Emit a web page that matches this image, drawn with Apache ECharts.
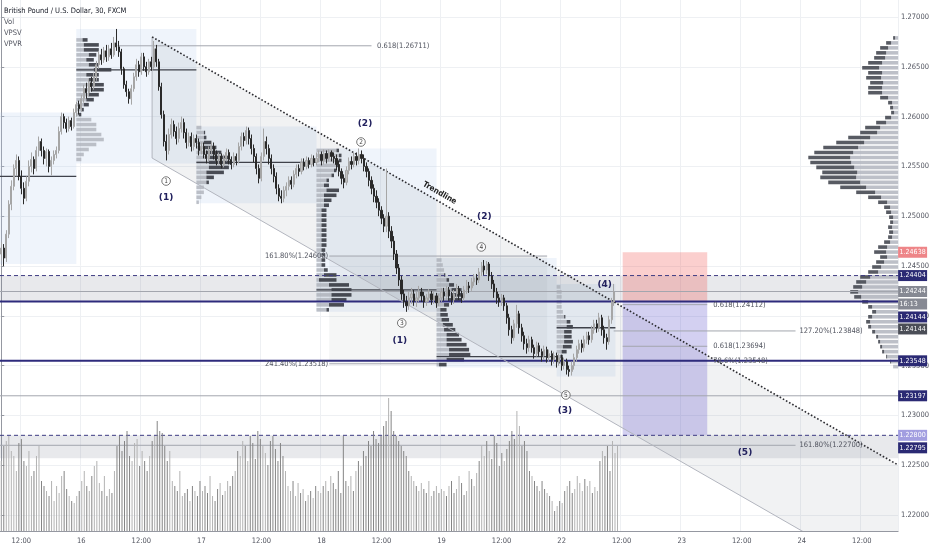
<!DOCTYPE html>
<html><head><meta charset="utf-8">
<script src="https://cdn.jsdelivr.net/npm/echarts@6.0.0/dist/echarts.min.js"></script>
<style>html,body{margin:0;padding:0;background:#fff}#c{width:932px;height:550px}</style>
</head><body><div id="c"></div><script>
// ---------------- DATA ----------------
const BAR_COUNT = 359;
const tickLabels = ['12:00','16','12:00','17','12:00','18','12:00','19','12:00','22','12:00','23','12:00','24','12:00'];
const tickStart = 8, tickStep = 24;
const priceTicks = [1.22,1.225,1.23,1.235,1.24,1.245,1.25,1.255,1.26,1.265,1.27];
const priceMin = 1.218394, priceMax = 1.271707;

// [open, close, low, high]
const candles = [
[1.2462,1.2468,1.2455,1.2474],[1.2468,1.2458,1.2450,1.2472],[1.2458,1.2482,1.2454,1.2486],[1.2482,1.2512,1.2478,1.2516],
[1.2512,1.2530,1.2506,1.2536],[1.2530,1.2548,1.2526,1.2552],[1.2548,1.2556,1.2540,1.2562],[1.2556,1.2540,1.2536,1.2560],
[1.2540,1.2528,1.2522,1.2546],[1.2528,1.2518,1.2512,1.2534],[1.2518,1.2535,1.2515,1.2540],[1.2535,1.2550,1.2530,1.2556],
[1.2550,1.2557,1.2544,1.2564],[1.2557,1.2548,1.2542,1.2560],[1.2548,1.2566,1.2545,1.2570],[1.2566,1.2575,1.2560,1.2580],
[1.2575,1.2566,1.2560,1.2578],[1.2566,1.2558,1.2552,1.2570],[1.2558,1.2565,1.2550,1.2568],[1.2565,1.2550,1.2544,1.2567],
[1.2550,1.2556,1.2541,1.2560],[1.2556,1.2562,1.2552,1.2566],[1.2562,1.2566,1.2558,1.2570],[1.2566,1.2585,1.2563,1.2590],
[1.2585,1.2600,1.2582,1.2604],[1.2600,1.2594,1.2588,1.2603],[1.2594,1.2588,1.2584,1.2598],[1.2588,1.2596,1.2585,1.2600],
[1.2596,1.2590,1.2586,1.2599],[1.2590,1.2604,1.2588,1.2608],[1.2604,1.2612,1.2600,1.2615],[1.2612,1.2608,1.2602,1.2616],
[1.2608,1.2618,1.2605,1.2622],[1.2618,1.2628,1.2614,1.2632],[1.2628,1.2624,1.2618,1.2634],[1.2624,1.2634,1.2620,1.2638],
[1.2634,1.2630,1.2625,1.2640],[1.2630,1.2640,1.2627,1.2644],[1.2640,1.2652,1.2636,1.2656],[1.2652,1.2662,1.2648,1.2666],
[1.2662,1.2657,1.2652,1.2668],[1.2657,1.2666,1.2654,1.2670],[1.2666,1.2660,1.2655,1.2672],[1.2660,1.2668,1.2656,1.2672],
[1.2668,1.2662,1.2658,1.2674],[1.2662,1.2674,1.2660,1.2680],[1.2674,1.2670,1.2666,1.2688],[1.2670,1.2665,1.2660,1.2676],
[1.2665,1.2648,1.2642,1.2668],[1.2648,1.2632,1.2628,1.2650],[1.2632,1.2625,1.2620,1.2636],[1.2625,1.2618,1.2613,1.2628],
[1.2618,1.2628,1.2612,1.2632],[1.2628,1.2640,1.2625,1.2644],[1.2640,1.2652,1.2636,1.2658],[1.2652,1.2645,1.2640,1.2656],
[1.2645,1.2660,1.2642,1.2664],[1.2660,1.2650,1.2646,1.2664],[1.2650,1.2645,1.2640,1.2655],[1.2645,1.2655,1.2642,1.2658],
[1.2655,1.2650,1.2646,1.2660],[1.2650,1.2668,1.2648,1.2676],[1.2668,1.2655,1.2650,1.2672],[1.2655,1.2630,1.2626,1.2658],
[1.2630,1.2602,1.2598,1.2634],[1.2602,1.2575,1.2570,1.2606],[1.2575,1.2566,1.2556,1.2582],[1.2566,1.2582,1.2562,1.2588],
[1.2582,1.2592,1.2578,1.2598],[1.2592,1.2585,1.2580,1.2596],[1.2585,1.2578,1.2572,1.2590],[1.2578,1.2588,1.2574,1.2594],
[1.2588,1.2594,1.2584,1.2600],[1.2594,1.2584,1.2578,1.2598],[1.2584,1.2574,1.2568,1.2588],[1.2574,1.2580,1.2570,1.2584],
[1.2580,1.2570,1.2565,1.2584],[1.2570,1.2578,1.2566,1.2582],[1.2578,1.2574,1.2568,1.2582],[1.2574,1.2566,1.2561,1.2578],
[1.2566,1.2570,1.2562,1.2574],[1.2570,1.2562,1.2558,1.2574],[1.2562,1.2558,1.2553,1.2566],[1.2558,1.2566,1.2555,1.2570],
[1.2566,1.2570,1.2562,1.2575],[1.2570,1.2562,1.2557,1.2574],[1.2562,1.2556,1.2551,1.2566],[1.2556,1.2560,1.2552,1.2564],
[1.2560,1.2552,1.2548,1.2563],[1.2552,1.2558,1.2549,1.2562],[1.2558,1.2564,1.2555,1.2568],[1.2564,1.2557,1.2552,1.2567],
[1.2557,1.2552,1.2547,1.2560],[1.2552,1.2560,1.2549,1.2564],[1.2560,1.2556,1.2551,1.2563],[1.2556,1.2570,1.2553,1.2574],
[1.2570,1.2580,1.2566,1.2584],[1.2580,1.2576,1.2570,1.2584],[1.2576,1.2586,1.2572,1.2590],[1.2586,1.2578,1.2572,1.2589],
[1.2578,1.2568,1.2562,1.2582],[1.2568,1.2560,1.2554,1.2572],[1.2560,1.2548,1.2542,1.2563],[1.2548,1.2538,1.2533,1.2552],
[1.2538,1.2560,1.2535,1.2564],[1.2560,1.2575,1.2556,1.2588],[1.2575,1.2568,1.2562,1.2580],[1.2568,1.2558,1.2552,1.2572],
[1.2558,1.2548,1.2542,1.2562],[1.2548,1.2540,1.2534,1.2552],[1.2540,1.2528,1.2522,1.2544],[1.2528,1.2520,1.2515,1.2532],
[1.2520,1.2518,1.2513,1.2526],[1.2518,1.2526,1.2514,1.2530],[1.2526,1.2530,1.2520,1.2534],[1.2530,1.2536,1.2526,1.2540],
[1.2536,1.2532,1.2527,1.2540],[1.2532,1.2542,1.2529,1.2546],[1.2542,1.2548,1.2538,1.2552],[1.2548,1.2545,1.2540,1.2552],
[1.2545,1.2554,1.2542,1.2558],[1.2554,1.2550,1.2546,1.2558],[1.2550,1.2556,1.2547,1.2560],[1.2556,1.2552,1.2548,1.2559],
[1.2552,1.2558,1.2549,1.2562],[1.2558,1.2554,1.2550,1.2561],[1.2554,1.2558,1.2551,1.2564],[1.2558,1.2562,1.2554,1.2566],
[1.2562,1.2556,1.2551,1.2565],[1.2556,1.2563,1.2552,1.2567],[1.2563,1.2558,1.2553,1.2566],[1.2558,1.2564,1.2555,1.2567],
[1.2564,1.2560,1.2555,1.2566],[1.2560,1.2558,1.2553,1.2564],[1.2558,1.2552,1.2546,1.2562],[1.2552,1.2545,1.2540,1.2556],
[1.2545,1.2538,1.2532,1.2548],[1.2538,1.2534,1.2528,1.2542],[1.2534,1.2546,1.2531,1.2550],[1.2546,1.2555,1.2542,1.2559],
[1.2555,1.2552,1.2547,1.2560],[1.2552,1.2560,1.2549,1.2564],[1.2560,1.2556,1.2551,1.2564],[1.2556,1.2562,1.2552,1.2568],
[1.2562,1.2558,1.2553,1.2566],[1.2558,1.2550,1.2545,1.2562],[1.2550,1.2545,1.2539,1.2554],[1.2545,1.2536,1.2530,1.2548],
[1.2536,1.2528,1.2522,1.2540],[1.2528,1.2520,1.2514,1.2532],[1.2520,1.2514,1.2508,1.2526],[1.2514,1.2506,1.2500,1.2518],
[1.2506,1.2498,1.2492,1.2510],[1.2498,1.2490,1.2484,1.2502],[1.2490,1.2500,1.2484,1.2548],[1.2500,1.2485,1.2478,1.2504],
[1.2485,1.2475,1.2468,1.2490],[1.2475,1.2462,1.2456,1.2480],[1.2462,1.2448,1.2442,1.2466],[1.2448,1.2436,1.2430,1.2452],
[1.2436,1.2422,1.2416,1.2440],[1.2422,1.2414,1.2408,1.2426],[1.2414,1.2410,1.2404,1.2420],[1.2410,1.2418,1.2406,1.2424],
[1.2418,1.2422,1.2412,1.2428],[1.2422,1.2415,1.2410,1.2426],[1.2415,1.2418,1.2409,1.2424],[1.2418,1.2424,1.2414,1.2430],
[1.2424,1.2420,1.2414,1.2428],[1.2420,1.2414,1.2408,1.2424],[1.2414,1.2418,1.2410,1.2422],[1.2418,1.2422,1.2414,1.2427],
[1.2422,1.2416,1.2411,1.2425],[1.2416,1.2420,1.2412,1.2424],[1.2420,1.2413,1.2408,1.2423],[1.2413,1.2418,1.2410,1.2422],
[1.2418,1.2424,1.2414,1.2428],[1.2424,1.2420,1.2415,1.2428],[1.2420,1.2426,1.2416,1.2430],[1.2426,1.2420,1.2415,1.2429],
[1.2420,1.2416,1.2411,1.2424],[1.2416,1.2422,1.2412,1.2426],[1.2422,1.2427,1.2418,1.2432],[1.2427,1.2421,1.2416,1.2430],
[1.2421,1.2418,1.2413,1.2425],[1.2418,1.2426,1.2415,1.2430],[1.2426,1.2430,1.2422,1.2436],[1.2430,1.2428,1.2423,1.2434],
[1.2428,1.2434,1.2425,1.2438],[1.2434,1.2438,1.2430,1.2442],[1.2438,1.2436,1.2431,1.2442],[1.2436,1.2444,1.2433,1.2448],
[1.2444,1.2450,1.2440,1.2454],[1.2450,1.2446,1.2441,1.2456],[1.2446,1.2452,1.2442,1.2455],[1.2452,1.2440,1.2435,1.2454],
[1.2440,1.2432,1.2427,1.2444],[1.2432,1.2424,1.2418,1.2436],[1.2424,1.2418,1.2412,1.2428],[1.2418,1.2414,1.2409,1.2422],
[1.2414,1.2418,1.2410,1.2422],[1.2418,1.2410,1.2405,1.2421],[1.2410,1.2398,1.2392,1.2413],[1.2398,1.2386,1.2380,1.2402],
[1.2386,1.2378,1.2372,1.2390],[1.2378,1.2392,1.2375,1.2396],[1.2392,1.2402,1.2388,1.2411],[1.2402,1.2388,1.2382,1.2405],
[1.2388,1.2380,1.2374,1.2392],[1.2380,1.2372,1.2366,1.2384],[1.2372,1.2368,1.2362,1.2377],[1.2368,1.2376,1.2364,1.2380],
[1.2376,1.2368,1.2363,1.2379],[1.2368,1.2362,1.2357,1.2371],[1.2362,1.2370,1.2359,1.2374],[1.2370,1.2364,1.2359,1.2373],
[1.2364,1.2360,1.2354,1.2367],[1.2360,1.2366,1.2356,1.2370],[1.2366,1.2358,1.2353,1.2369],[1.2358,1.2362,1.2354,1.2366],
[1.2362,1.2356,1.2350,1.2365],[1.2356,1.2360,1.2352,1.2364],[1.2360,1.2354,1.2348,1.2363],[1.2354,1.2358,1.2350,1.2362],
[1.2358,1.2350,1.2345,1.2361],[1.2350,1.2354,1.2346,1.2358],[1.2354,1.2346,1.2341,1.2357],[1.2346,1.2344,1.2339,1.2350],
[1.2344,1.2350,1.2340,1.2354],[1.2350,1.2358,1.2346,1.2362],[1.2358,1.2366,1.2354,1.2370],[1.2366,1.2372,1.2362,1.2376],
[1.2372,1.2368,1.2363,1.2376],[1.2368,1.2376,1.2364,1.2380],[1.2376,1.2380,1.2372,1.2384],[1.2380,1.2376,1.2371,1.2384],
[1.2376,1.2386,1.2373,1.2390],[1.2386,1.2392,1.2382,1.2396],[1.2392,1.2388,1.2383,1.2396],[1.2388,1.2398,1.2384,1.2403],
[1.2398,1.2386,1.2380,1.2401],[1.2386,1.2378,1.2372,1.2390],[1.2378,1.2374,1.2366,1.2382],[1.2374,1.2396,1.2371,1.2400],
[1.2396,1.2414,1.2392,1.2418],[1.2414,1.2424,1.2410,1.2432]
];

const volumes = [
70,85,90,95,80,75,60,88,92,70,65,80,55,60,75,85,50,45,
40,35,50,30,45,38,55,60,42,35,30,28,35,40,
50,60,45,40,55,65,70,48,40,55,35,42,38,60,
85,95,80,90,100,75,70,88,92,65,80,70,60,75,90,95,110,100,98,85,70,80,
50,45,40,60,35,38,42,30,45,40,35,50,
40,45,38,55,35,30,42,48,36,40,50,45,55,60,
80,75,90,85,70,95,88,72,100,92,85,78,66,90,95,82,70,88,75,60,
45,40,50,35,48,38,42,30,36,40,33,45,40,38,
45,50,40,55,48,42,60,38,95,50,45,55,40,60,
70,65,80,75,90,85,100,92,88,95,105,110,133,120,100,95,90,85,80,75,
60,55,50,45,40,48,42,38,50,35,40,45,38,42,
40,35,45,50,38,42,55,48,36,40,60,52,45,58,
70,85,75,90,80,72,95,88,65,78,70,82,90,100,92,120,105,85,90,80,
60,55,50,45,40,50,42,38,35,30,
20,25,30,28,
40,45,50,38,42,55,48,40,52,45,50,38,44,40,
70,80,75,85,60,90,78,85
];

// session volume profiles: [price, upVolume, downVolume]
const sessionAnchors = [30, 78, 126, 174, 222];
const vpS16 = [[1.2677,2.5,2],[1.2672,3,6],[1.2667,3,6],[1.2662,5,3],[1.2657,4,3],[1.2652,5,4],[1.2647,7,7],[1.2642,4,5],[1.2637,5,4],[1.2632,6,5],[1.2627,6,5],[1.2622,5,4],[1.2617,4,3],[1.2612,3,2],[1.2607,2,1],[1.2602,1,1],[1.2597,6,0],[1.2592,8,0],[1.2587,8,0],[1.2582,10,0],[1.2577,11,0],[1.2572,8,0],[1.2567,5,0],[1.2562,3,0],[1.2557,2,0]];
const vpS17 = [[1.2589,2,0],[1.2584,3,0.5],[1.2579,3,1],[1.2574,3,3],[1.2569,3,5],[1.2564,4,6],[1.2559,5,8],[1.2554,5,9],[1.2549,5,8],[1.2544,4,7],[1.2539,4,3],[1.2534,4,1],[1.2529,3,0],[1.2524,3,0],[1.2519,2,0],[1.2514,1,0]];
const vpS18 = [[1.2566,8,1],[1.2561,9,1],[1.2556,9,1],[1.2551,8,1],[1.2546,7,1],[1.2541,6,1],[1.2536,4,1],[1.2531,3,2],[1.2526,4,5],[1.2521,3,5],[1.2516,3,3],[1.2511,3,2],[1.2506,2,2],[1.2501,2,2],[1.2496,2,2],[1.2491,2,2],[1.2486,2,2],[1.2481,2,2],[1.2476,2,2],[1.2471,2,2],[1.2466,2,1.5],[1.2461,2,1.5],[1.2456,2,1.5],[1.2451,2,1.5],[1.2446,3,1.5],[1.2441,3,5],[1.2436,1,7],[1.2431,5,8],[1.2426,6,8],[1.2421,6,8],[1.2416,6,6],[1.2411,5,6],[1.2406,4,1]];
const vpS19 = [[1.2456,2,0],[1.2451,2.5,0],[1.2446,3,0],[1.2441,3,0.5],[1.2436,4,1],[1.2431,5,2],[1.2426,6,4],[1.2421,6,5],[1.2416,5,5],[1.2411,3,2],[1.2406,1.5,2.5],[1.2401,1.5,3],[1.2396,2,3],[1.2391,2.5,4],[1.2386,3,4.5],[1.2381,4,5],[1.2376,4,6],[1.2371,4,8],[1.2366,5,8],[1.2361,5,8.5],[1.2356,4,7],[1.2351,1,3]];
const vpS22 = [[1.2429,1.5,0],[1.2424,2,0],[1.2419,2,0],[1.2414,2,0],[1.2409,2,0],[1.2404,2.5,0],[1.2399,3,0.5],[1.2394,4,1.5],[1.2389,4,2.5],[1.2384,3,3],[1.2379,3,3],[1.2374,3,3.5],[1.2369,2.5,3.5],[1.2364,2,2],[1.2359,1.5,1],[1.2354,1,0.5]];
const VP_ROW = 0.0005;

// visible range volume profile: [price, upVolume, downVolume]
const vpvr = [
[1.2679,3,2],[1.2674,7,5],[1.2669,10,8],[1.2664,12,10],[1.2659,13,11],[1.2654,16,14],[1.2649,19,17],[1.2644,16,14],
[1.2639,17,15],[1.2634,15,13],[1.2629,16,14],[1.2624,16,14],[1.2619,10,8],[1.2614,6,4],[1.2609,5,3],[1.2604,4,3],
[1.2599,7,6],[1.2594,12,10],[1.2589,18,15],[1.2584,21,17],[1.2579,28,22],[1.2574,34,28],[1.2569,40,35],[1.2564,45,39],
[1.2559,48,42],[1.2554,47,41],[1.2549,44,38],[1.2544,41,35],[1.2539,42,36],[1.2534,38,32],[1.2529,32,26],[1.2524,23,19],
[1.2519,17,13],[1.2514,11,9],[1.2509,8,6],[1.2504,7,5],[1.2499,5,4],[1.2494,5,3],[1.2489,6,4],[1.2484,5,4],
[1.2479,6,4],[1.2474,8,6],[1.2469,11,9],[1.2464,12,12],[1.2459,11,7],[1.2454,14,8],[1.2449,17,9],[1.2444,20,10],
[1.2439,28,10],[1.2434,32,10],[1.2429,36,9],[1.2424,40,8],[1.2419,37,7],[1.2414,30,6],[1.2409,26,4],[1.2404,22,4],
[1.2399,26,4],[1.2394,28,4],[1.2389,27,3],[1.2384,23,3],[1.2379,20,2],[1.2374,18,2],[1.2369,16,2],[1.2364,14,2],
[1.2359,11,1],[1.2354,7,1],[1.2349,5,0]
];

// session ranges [fromBar, toBar, high, low] and point of control [fromBar, toBar, price]
const sessionBoxes = [[-0.5,30,1.2604,1.2452],[30,78,1.2688,1.2553],[78,126,1.2590,1.2513],[126,174,1.2568,1.2404],[174,222,1.2458,1.2348],[222,245.5,1.2432,1.2339]];
const pocLines = [[-0.5,30,1.2540],[30,78,1.2647],[78,126,1.2554],[126,174,1.2426],[174,222,1.2359],[222,245.5,1.2388]];

// trend channel [bar, price]
const trendStart = [60.3, 1.2680], trendEnd = [358.5, 1.22502];
const lowerStart = [60.3, 1.25584], lowerEnd = [358.5, 1.21286];

// horizontal levels
const bands = [[1.24404, 1.24144], [1.22800, 1.22570]];
const levelLines = [[1.24144,'navy'],[1.23548,'navy'],[1.24404,'dash'],[1.22800,'dash'],[1.24244,'thin'],[1.23197,'thin']];
const fibZones = [[131.1, 218.2, 1.24600, 1.23518]];
const fibLines = [[46.5,148,1.26711],[131.1,218.2,1.24600],[131.1,175,1.23518],[248.4,282.2,1.24112],[248.4,282.2,1.23694],[248.4,282.2,1.23548],[244.8,317.5,1.23848],[-0.5,317.5,1.22700]];
// position tool [fromBar, toBar, top, bottom, kind]
const positionBoxes = [[248.4,282.2,1.24638,1.24144,'stop'],[248.4,282.2,1.24144,1.22800,'target']];

const labels = [
[65.9,1.25353,'1','circ'],[65.9,1.25183,'(1)','wave'],
[143.8,1.25745,'2','circ'],[145.4,1.25926,'(2)','wave'],
[193.1,1.24992,'(2)','wave'],[191.9,1.24691,'4','circ'],
[160.1,1.23928,'3','circ'],[159.3,1.23747,'(1)','wave'],
[225.7,1.23205,'5','circ'],[225.3,1.23044,'(3)','wave'],
[241.2,1.24309,'(4)','wave'],[297.3,1.22622,'(5)','wave'],
[175.2,1.25233,'Trendline','trend'],
[149.8,1.26711,'0.618(1.26711)','fibL'],
[131.1,1.24600,'161.80%(1.24600)','fibR'],
[131.1,1.23518,'241.40%(1.23518)','fibR'],
[284.2,1.24112,'0.618(1.24112)','fibL'],
[284.2,1.23694,'0.618(1.23694)','fibL'],
[284.2,1.23548,'78.6%(1.23548)','fibL'],
[318.7,1.23848,'127.20%(1.23848)','fibL'],
[318.7,1.22700,'161.80%(1.22700)','fibL']
];

const tags = [
[1.24638,'1.24638','stop'],[1.24404,'1.24404','navy'],[1.24244,'1.24244','last'],[1.24244,'16:13','last'],
[1.24144,'1.24144','navy'],[1.24144,'1.24144','dark'],[1.23548,'1.23548','navy'],[1.23197,'1.23197','navy'],
[1.22800,'1.22800','target'],[1.22795,'1.22795','navy']
];

// ---------------- LAYOUT / STYLE ----------------
const tagShift = [0,0,0,12.5,15.5,27.5,0,0,0,12];
const FONT = "'Liberation Sans Narrow','DejaVu Sans Condensed','Liberation Sans',sans-serif";
const tagColors = {stop:'#ee8588', navy:'#2b2a74', last:'#868993', dark:'#4b4e57', target:'#a29ee0'};
const boxColors = {stop:'rgba(239,83,80,0.28)', target:'rgba(98,86,205,0.28)'};
const NAVY = '#2e2b7c';

const tickAt = {};
tickLabels.forEach((t,k)=>{ tickAt[tickStart + k*tickStep] = t; });
const categories = [];
for (let i = 0; i < BAR_COUNT; i++) categories.push(String(i));
const isTick = (i) => tickAt[i] !== undefined;

const vpRows = [];
[vpS16, vpS17, vpS18, vpS19, vpS22].forEach((rows, s) => {
  rows.forEach(r => vpRows.push([sessionAnchors[s], r[0], r[1], r[2]]));
});

const chart = echarts.init(document.getElementById('c'), null, {renderer:'canvas'});

function seg(api, v1, p1, v2, p2, style) {
  const a = api.coord([v1, p1]), b = api.coord([v2, p2]);
  return {type:'line', shape:{x1:a[0], y1:a[1], x2:b[0], y2:b[1]}, style};
}
function box(api, v1, p1, v2, p2, style) {
  const a = api.coord([v1, p1]), b = api.coord([v2, p2]);
  return {type:'rect', shape:{x:Math.min(a[0],b[0]), y:Math.min(a[1],b[1]), width:Math.abs(b[0]-a[0]), height:Math.abs(b[1]-a[1])}, style};
}
const XR = BAR_COUNT - 0.5;
function custom(name, arr, render, extra) {
  return Object.assign({
    type:'custom', name, xAxisIndex:1, yAxisIndex:0, clip:true, silent:true,
    data: arr.map((d) => [0, 1.25]),
    renderItem: (params, api) => render(arr[params.dataIndex], api, params.dataIndex)
  }, extra || {});
}

const option = {
  animation:false,
  backgroundColor:'#ffffff',
  grid:[{left:0, right:29, top:0, bottom:19}, {left:0, right:29, top:398, bottom:19}],
  xAxis:[
    {type:'category', gridIndex:0, data:categories, boundaryGap:true,
     axisLine:{lineStyle:{color:'#9598a1'}},
     axisTick:{interval:(i)=>isTick(i), alignWithLabel:true, length:3, lineStyle:{color:'#9598a1'}},
     axisLabel:{interval:(i)=>isTick(i), formatter:(v,i)=>tickAt[i]||'', fontSize:7.5, color:'#50535e', fontFamily:FONT, margin:6},
     splitLine:{show:true, interval:(i)=>isTick(i), lineStyle:{color:'#eef0f3'}}},
    {type:'value', gridIndex:0, min:-0.5, max:XR, show:false},
    {type:'value', gridIndex:0, min:0, max:900, inverse:true, show:false},
    {type:'category', gridIndex:1, data:categories, show:false}
  ],
  yAxis:[
    {type:'value', gridIndex:0, position:'right', min:priceMin, max:priceMax,
     axisLine:{show:true, lineStyle:{color:'#9598a1'}},
     axisTick:{show:true, length:3, customValues:priceTicks, lineStyle:{color:'#9598a1'}},
     axisLabel:{customValues:priceTicks, formatter:(v)=>v.toFixed(5), fontSize:7.5, color:'#50535e', fontFamily:FONT, margin:3},
     splitLine:{show:true, lineStyle:{color:'#eef0f3'}}},
    {type:'value', gridIndex:1, min:0, max:133, show:false}
  ],
  graphic:[
    {type:'text', left:4, top:7, z:20, style:{text:'British Pound / U.S. Dollar, 30, FXCM', fill:'#131722', fontSize:7.5, fontFamily:FONT}},
    {type:'text', left:4, top:18, z:20, style:{text:'Vol', fill:'#50535e', fontSize:7.5, fontFamily:FONT}},
    {type:'text', left:4, top:29, z:20, style:{text:'VPSV', fill:'#50535e', fontSize:7.5, fontFamily:FONT}},
    {type:'text', left:4, top:40, z:20, style:{text:'VPVR', fill:'#50535e', fontSize:7.5, fontFamily:FONT}}
  ],
  series:[
    custom('sessions', sessionBoxes, (d, api) => box(api, d[0], d[2], d[1], d[3], {fill:'rgba(180,205,235,0.22)'})),
    custom('bands', bands, (d, api) => box(api, -0.5, d[0], XR, d[1], {fill:'rgba(120,123,140,0.17)'})),
    custom('fibZones', fibZones, (d, api) => box(api, d[0], d[2], d[1], d[3], {fill:'rgba(120,123,134,0.07)'})),
    custom('channel', [0], (d, api) => {
      const pts = [trendStart, trendEnd, lowerEnd, lowerStart].map(p => api.coord(p));
      return {type:'polygon', shape:{points:pts}, style:{fill:'rgba(120,123,134,0.10)'}};
    }),
    custom('position', positionBoxes, (d, api) => box(api, d[0], d[2], d[1], d[3], {fill:boxColors[d[4]]})),
    custom('sessionVP', vpRows, (r, api) => {
      const h = Math.abs(api.size([0, VP_ROW])[1]) * 0.72;
      const a = api.coord([r[0], r[1]]), b = api.coord([r[0]+r[2], r[1]]), c = api.coord([r[0]+r[2]+r[3], r[1]]);
      return {type:'group', children:[
        {type:'rect', shape:{x:a[0], y:a[1]-h/2, width:b[0]-a[0], height:h}, style:{fill:'rgba(170,173,182,0.75)'}},
        {type:'rect', shape:{x:b[0], y:b[1]-h/2, width:c[0]-b[0], height:h}, style:{fill:'rgba(45,47,55,0.85)'}}
      ]};
    }),
    custom('vpvr', vpvr, (r, api) => {
      const h = Math.abs(api.size([0, VP_ROW])[1]) * 0.72;
      const a = api.coord([0, r[0]]), b = api.coord([r[1], r[0]]), c = api.coord([r[1]+r[2], r[0]]);
      return {type:'group', children:[
        {type:'rect', shape:{x:b[0], y:a[1]-h/2, width:a[0]-b[0], height:h}, style:{fill:'rgba(178,181,190,0.85)'}},
        {type:'rect', shape:{x:c[0], y:a[1]-h/2, width:b[0]-c[0], height:h}, style:{fill:'rgba(70,73,82,0.9)'}}
      ]};
    }, {xAxisIndex:2}),
    custom('poc', pocLines, (d, api) => seg(api, d[0], d[2], d[1], d[2], {stroke:'#3f424b', lineWidth:1.3})),
    custom('fibLines', fibLines, (d, api) => seg(api, d[0], d[2], d[1], d[2], {stroke:'#a3a6ae', lineWidth:1})),
    {type:'candlestick', name:'GBPUSD', xAxisIndex:0, yAxisIndex:0, data:candles, barWidth:1.6, silent:true,
     itemStyle:{color:'#c2c2c2', color0:'#2a2a2a', borderColor:'#a6a6a6', borderColor0:'#2a2a2a', borderWidth:1}},
    custom('levels', levelLines, (d, api) => {
      const k = d[1];
      const st = k === 'navy' ? {stroke:NAVY, lineWidth:2}
               : k === 'dash' ? {stroke:'#3d3b82', lineWidth:1, lineDash:[4,3]}
               : {stroke:'#a3a6ae', lineWidth:1};
      return seg(api, -0.5, d[0], XR, d[0], st);
    }),
    custom('trend', [0], (d, api) => ({type:'group', children:[
      seg(api, lowerStart[0], lowerStart[1], lowerEnd[0], lowerEnd[1], {stroke:'#b2b5be', lineWidth:1}),
      seg(api, trendStart[0], trendStart[1], lowerStart[0], lowerStart[1], {stroke:'#b2b5be', lineWidth:1}),
      seg(api, trendStart[0], trendStart[1], trendEnd[0], trendEnd[1], {stroke:'#2b2b30', lineWidth:1.6, lineDash:[1.6,2]})
    ]})),
    custom('labels', labels, (d, api) => {
      const p = api.coord([d[0], d[1]]);
      const k = d[3];
      if (k === 'circ') return {type:'group', children:[
        {type:'circle', shape:{cx:p[0], cy:p[1], r:4.3}, style:{fill:'rgba(255,255,255,0.7)', stroke:'#555', lineWidth:0.8}},
        {type:'text', x:p[0], y:p[1]+0.3, style:{text:d[2], fill:'#444', fontSize:6.5, fontFamily:FONT, align:'center', verticalAlign:'middle'}}
      ]};
      if (k === 'wave') return {type:'text', x:p[0], y:p[1], style:{text:d[2], fill:'#22215e', fontSize:9, fontWeight:'bold', fontFamily:"'DejaVu Sans',sans-serif", align:'center', verticalAlign:'middle'}};
      if (k === 'trend') {
        const a = api.coord(trendStart), b = api.coord(trendEnd);
        const ang = Math.atan2(b[1]-a[1], b[0]-a[0]);
        return {type:'text', x:p[0], y:p[1], rotation:-ang, style:{text:d[2], fill:'#222', fontSize:8, fontWeight:'bold', fontFamily:FONT, align:'center', verticalAlign:'middle'}};
      }
      return {type:'text', x:p[0] + (k === 'fibR' ? -1 : 1), y:p[1], style:{text:d[2], fill:'#50535e', fontSize:7.5, fontFamily:FONT, align:k === 'fibR' ? 'right' : 'left', verticalAlign:'middle'}};
    }),
    custom('tags', tags, (d, api, i) => {
      const p = api.coord([XR, d[0]]);
      const y = p[1] + tagShift[i];
      return {type:'group', children:[
        {type:'rect', shape:{x:p[0], y:y-5.5, width:29, height:11}, style:{fill:tagColors[d[2]]}},
        {type:'text', x:p[0]+1.5, y:y, style:{text:d[1], fill:'#ffffff', fontSize:7, fontFamily:FONT, align:'left', verticalAlign:'middle'}}
      ]};
    }, {clip:false, z:10}),
    {type:'bar', name:'Vol', xAxisIndex:3, yAxisIndex:1, barWidth:1, silent:true,
     data: volumes.map((v, i) => ({value:v, itemStyle:{color: candles[i] && candles[i][1] >= candles[i][0] ? '#b3b3b3' : '#858585'}}))}
  ]
};
chart.setOption(option);
</script></body></html>
